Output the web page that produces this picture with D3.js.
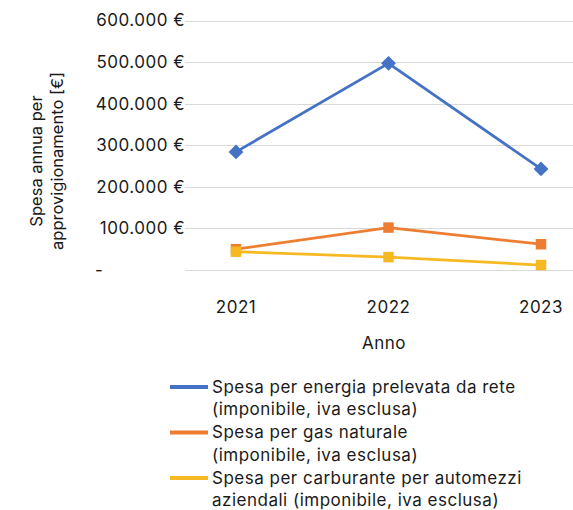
<!DOCTYPE html>
<html>
<head>
<meta charset="utf-8">
<script src="https://cdn.jsdelivr.net/npm/d3@7"></script>
<style>
  body { margin: 0; background: #fff; }
  text { font-family: Inter, "Open Sans", sans-serif; fill: #1a1a1a; letter-spacing: 0.5px; }
</style>
</head>
<body>
<div id="chart"></div>
<script>
var years = ['2021', '2022', '2023'];
var energia = [284000, 497000, 243000];
var gas = [50000, 102000, 62000];
var carburante = [44000, 31000, 12000];
var yTicks = [0, 100000, 200000, 300000, 400000, 500000, 600000];
var seriesNames = [
    ['Spesa per energia prelevata da rete', '(imponibile, iva esclusa)'],
    ['Spesa per gas naturale', '(imponibile, iva esclusa)'],
    ['Spesa per carburante per automezzi', 'aziendali (imponibile, iva esclusa)']
];
var colors = ['#4472C4', '#ED7D31', '#F6B921'];

var width = 573, height = 510;

var series = [energia, gas, carburante].map(function(v, i) {
    return { name: seriesNames[i], color: colors[i], values: v, shape: i === 0 ? 'diamond' : 'square' };
});

var svg = d3.select('#chart')
    .append('svg')
    .attr('width', width)
    .attr('height', height);

var x = d3.scalePoint()
    .domain(years)
    .range([236, 541]);

var y = d3.scaleLinear()
    .domain([0, 600000])
    .range([270, 20.5]);

// gridlines
svg.append('g')
    .selectAll('line')
    .data(yTicks)
    .enter()
    .append('line')
    .attr('x1', 185)
    .attr('x2', 573)
    .attr('y1', function(d) { return Math.round(y(d)) + 0.5; })
    .attr('y2', function(d) { return Math.round(y(d)) + 0.5; })
    .attr('stroke', '#d9d9d9')
    .attr('stroke-width', 1);

// y tick labels
var fmt = function(d) {
    return d3.format(',')(d).replace(/,/g, '.') + '\u00a0€';
};
svg.append('g')
    .selectAll('text')
    .data(yTicks)
    .enter()
    .append('text')
    .attr('x', function(d) { return d === 0 ? 95 : 185; })
    .attr('y', function(d) { return y(d); })
    .attr('dy', '0.35em')
    .attr('text-anchor', function(d) { return d === 0 ? 'start' : 'end'; })
    .style('font-size', '17px')
    .text(function(d) { return d === 0 ? '-' : fmt(d); });

// x labels
svg.append('g')
    .selectAll('text')
    .data(years)
    .enter()
    .append('text')
    .attr('x', function(d) { return x(d); })
    .attr('y', 307)
    .attr('dy', '0.35em')
    .attr('text-anchor', 'middle')
    .style('font-size', '17px')
    .text(function(d) { return d; });

// axis titles
svg.append('text')
    .attr('x', 384)
    .attr('y', 343)
    .attr('dy', '0.35em')
    .attr('text-anchor', 'middle')
    .style('font-size', '17px')
    .text('Anno');

var yTitle = svg.append('text')
    .attr('transform', 'translate(47,161)rotate(-90)')
    .attr('text-anchor', 'middle')
    .style('font-size', '16.5px')
    .style('letter-spacing', '0px');
yTitle.append('tspan').attr('x', 0).attr('dy', '-0.3em').text('Spesa annua per');
yTitle.append('tspan').attr('x', 0).attr('dy', '1.3em').text('approvigionamento [€]');

// lines
var line = d3.line()
    .x(function(d, i) { return x(years[i]); })
    .y(function(d) { return y(d); });

var g = svg.selectAll('g.series')
    .data(series)
    .enter()
    .append('g')
    .attr('class', 'series');

g.append('path')
    .attr('d', function(d) { return line(d.values); })
    .attr('fill', 'none')
    .attr('stroke', function(d) { return d.color; })
    .attr('stroke-width', 2.75);

var marker = d3.symbol().type(d3.symbolSquare).size(110);
g.each(function(s) {
    d3.select(this).selectAll('path.marker')
        .data(s.values)
        .enter()
        .append('path')
        .attr('class', 'marker')
        .attr('d', marker)
        .attr('transform', function(d, i) {
            return 'translate(' + x(years[i]) + ',' + y(d) + ')' + (s.shape === 'diamond' ? 'rotate(45)' : '');
        })
        .attr('fill', s.color);
});

// legend
var legend = svg.selectAll('.legend')
    .data(series)
    .enter()
    .append('g')
    .attr('class', 'legend')
    .attr('transform', function(d, i) {
        return 'translate(170,' + (387 + i * 45.5) + ')';
    });

legend.append('line')
    .attr('x1', 0)
    .attr('x2', 38)
    .attr('stroke', function(d) { return d.color; })
    .attr('stroke-width', 4);

legend.append('text')
    .attr('x', 42)
    .attr('dy', '0.35em')
    .style('font-size', '17px')
    .text(function(d) { return d.name[0]; });

legend.append('text')
    .attr('x', 42)
    .attr('y', 22.5)
    .attr('dy', '0.35em')
    .style('font-size', '17px')
    .text(function(d) { return d.name[1]; });
</script>
</body>
</html>
